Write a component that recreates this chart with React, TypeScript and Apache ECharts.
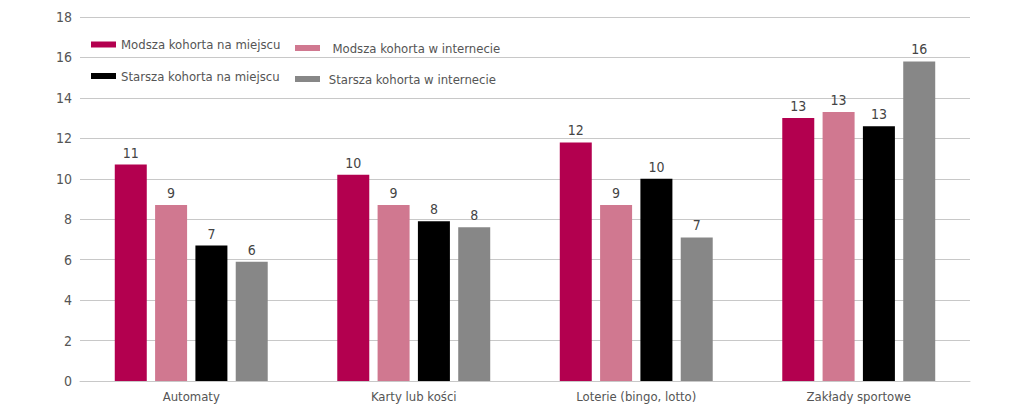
import React, { useEffect, useRef } from "react";
import * as echarts from "echarts";

const categories = ["Automaty", "Karty lub kości", "Loterie (bingo, lotto)", "Zakłady sportowe"];
const seriesNames = [
  "Modsza kohorta na miejscu",
  "Modsza kohorta w internecie",
  "Starsza kohorta na miejscu",
  "Starsza kohorta w internecie",
];
const youngOnsite = [10.7, 10.2, 11.8, 13.0];
const youngOnline = [8.7, 8.7, 8.7, 13.3];
const olderOnsite = [6.7, 7.9, 10.0, 12.6];
const olderOnline = [5.9, 7.6, 7.1, 15.8];
const yTicks = { min: 0, max: 18, interval: 2 };

const colors = ["#B3004F", "#D07890", "#000000", "#878787"];
const FONT = "'Liberation Sans Narrow', 'DejaVu Sans Condensed', 'Arial Narrow', sans-serif";
const TEXT = "#555555";

export default function App() {
  const ref = useRef<HTMLDivElement>(null);
  useEffect(() => {
    document.body.style.margin = "0";
    const chart = echarts.init(ref.current!, undefined, { renderer: "svg" });
    const values = [youngOnsite, youngOnline, olderOnsite, olderOnline];
    const legendPos = [
      { left: 91, top: 35.5, fmt: "{name}" },
      { left: 295, top: 39, fmt: "  {name}" },
      { left: 91, top: 67, fmt: "{name}" },
      { left: 295, top: 70, fmt: " {name}" },
    ];
    chart.setOption({
      animation: false,
      textStyle: { fontFamily: FONT },
      grid: { left: 80, right: 54, top: 17, bottom: 35 },
      legend: legendPos.map((p, i) => ({
        left: p.left,
        top: p.top,
        padding: 0,
        icon: "rect",
        itemWidth: 25,
        itemHeight: 6,
        formatter: p.fmt,
        data: [seriesNames[i]],
        textStyle: { fontFamily: FONT, fontSize: 13, color: TEXT, lineHeight: 18 },
      })),
      xAxis: {
        type: "category",
        data: categories,
        axisTick: { show: false },
        axisLine: { lineStyle: { color: "#c8c8c8", width: 1 } },
        axisLabel: { color: TEXT, fontSize: 13, fontFamily: FONT, margin: 9 },
      },
      yAxis: {
        type: "value",
        min: yTicks.min,
        max: yTicks.max,
        interval: yTicks.interval,
        axisLine: { show: false },
        axisTick: { show: false },
        axisLabel: { color: TEXT, fontSize: 14, fontFamily: FONT, margin: 8 },
        splitLine: { lineStyle: { color: "#c8c8c8", width: 1 } },
      },
      series: seriesNames.map((name, i) => ({
        name,
        type: "bar",
        data: values[i],
        barWidth: 32,
        barGap: "26%",
        itemStyle: { color: colors[i] },
        label: {
          show: true,
          position: "top",
          distance: 5,
          color: "#444444",
          fontSize: 14,
          fontFamily: FONT,
          formatter: (p: any) => String(Math.round(p.value)),
        },
      })),
    });
    return () => chart.dispose();
  }, []);
  return <div ref={ref} style={{ width: 1024, height: 416 }} />;
}
